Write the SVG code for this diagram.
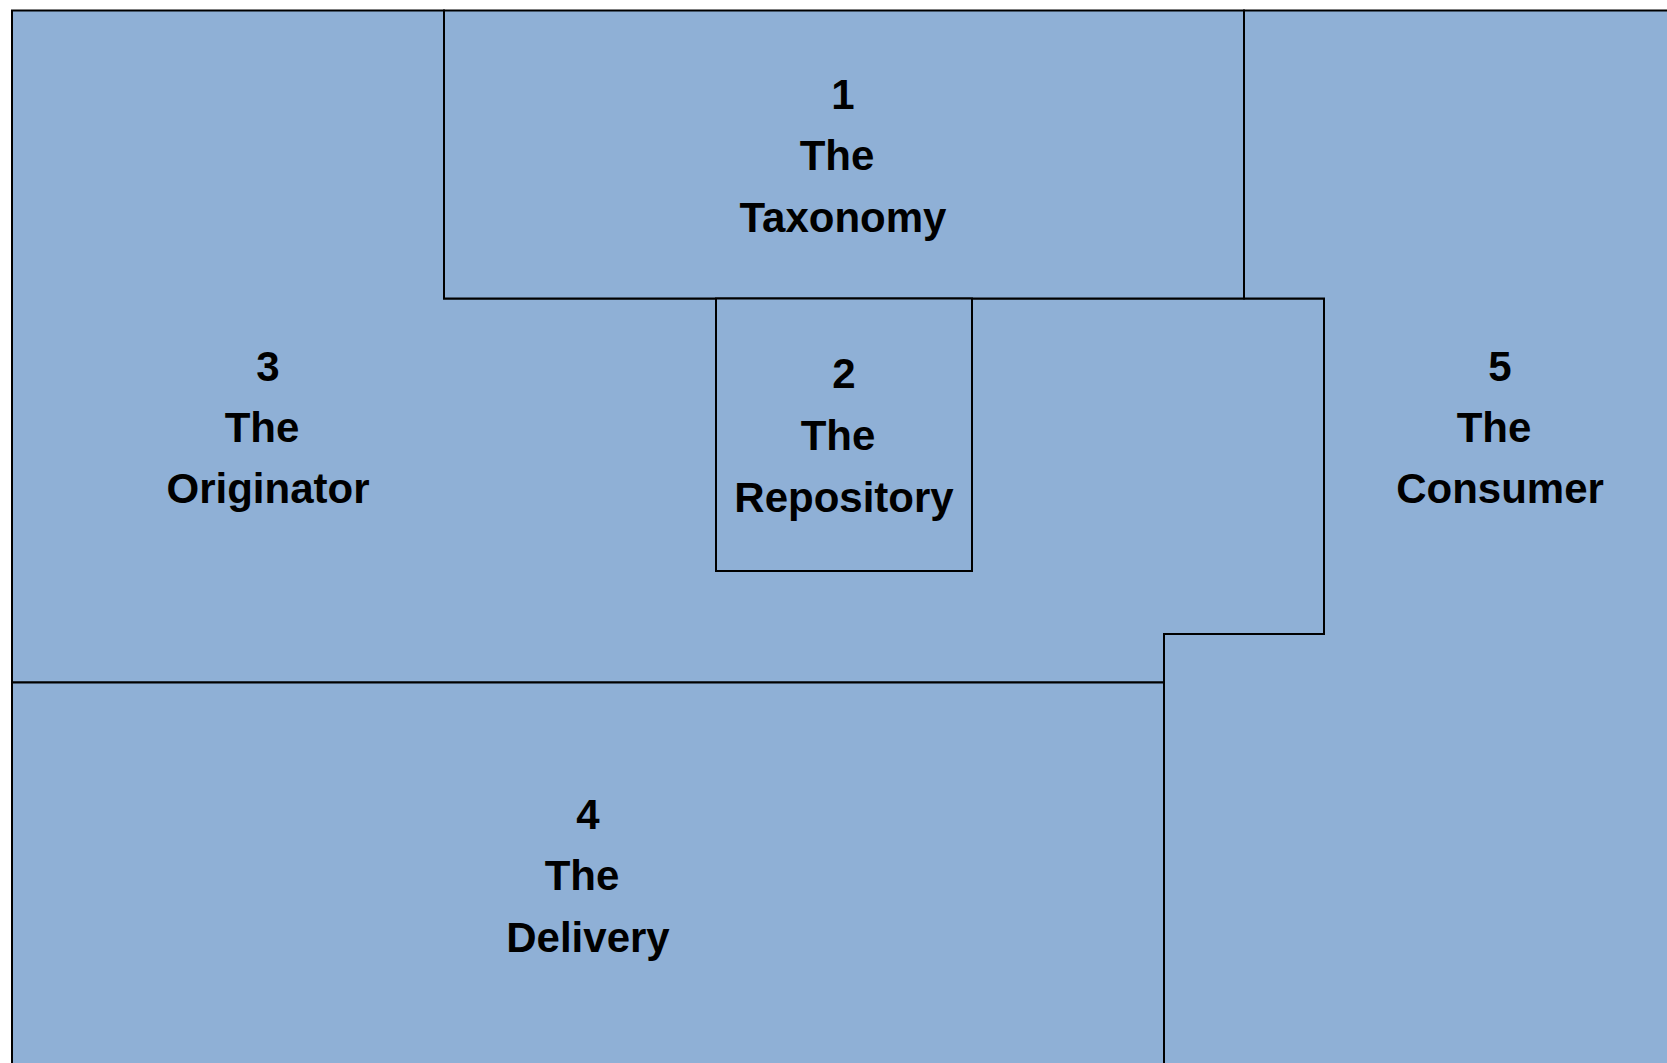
<svg xmlns="http://www.w3.org/2000/svg" width="1667" height="1063" viewBox="0 0 1667 1063">
  <style>
    .area { fill: #8FB0D6; stroke: #000000; stroke-width: 2; stroke-linejoin: miter; }
    .label { font-family: "Liberation Sans", Arial, sans-serif; font-weight: bold; font-size: 42px; fill: #000000; text-anchor: middle; }
  </style>
  <rect x="0" y="0" width="1667" height="1063" fill="#FFFFFF"/>

  <!-- 3: the originator, wraps round the taxonomy and repository -->
  <g id="node-originator">
    <polygon class="area" points="12,10.5 444,10.5 444,298.5 1324,298.5 1324,634 1164,634 1164,682.5 12,682.5"/>
    <text class="label" x="268" y="380.5">3</text>
    <text class="label" x="262" y="442">The</text>
    <text class="label" x="268" y="503">Originator</text>
  </g>

  <!-- 1: the taxonomy, top band -->
  <g id="node-taxonomy">
    <rect class="area" x="444" y="10.5" width="800" height="288"/>
    <text class="label" x="843" y="109">1</text>
    <text class="label" x="837" y="170">The</text>
    <text class="label" x="843" y="232">Taxonomy</text>
  </g>

  <!-- 2: the repository, hanging under the taxonomy -->
  <g id="node-repository">
    <rect class="area" x="716" y="298.5" width="256" height="272.5"/>
    <text class="label" x="844" y="388">2</text>
    <text class="label" x="838" y="450">The</text>
    <text class="label" x="844" y="512">Repository</text>
  </g>

  <!-- 4: the delivery, bottom left -->
  <g id="node-delivery">
    <polygon class="area" points="12,682.5 1164,682.5 1164,1070 12,1070"/>
    <text class="label" x="588" y="829">4</text>
    <text class="label" x="582" y="890">The</text>
    <text class="label" x="588" y="952">Delivery</text>
  </g>

  <!-- 5: the consumer, right column with a step -->
  <g id="node-consumer">
    <polygon class="area" points="1244,10.5 1675,10.5 1675,1070 1164,1070 1164,634 1324,634 1324,298.5 1244,298.5"/>
    <text class="label" x="1500" y="381">5</text>
    <text class="label" x="1494" y="442">The</text>
    <text class="label" x="1500" y="503">Consumer</text>
  </g>

  <!-- no connectors: the areas share their borders -->
  <g id="connectors"/>
</svg>
